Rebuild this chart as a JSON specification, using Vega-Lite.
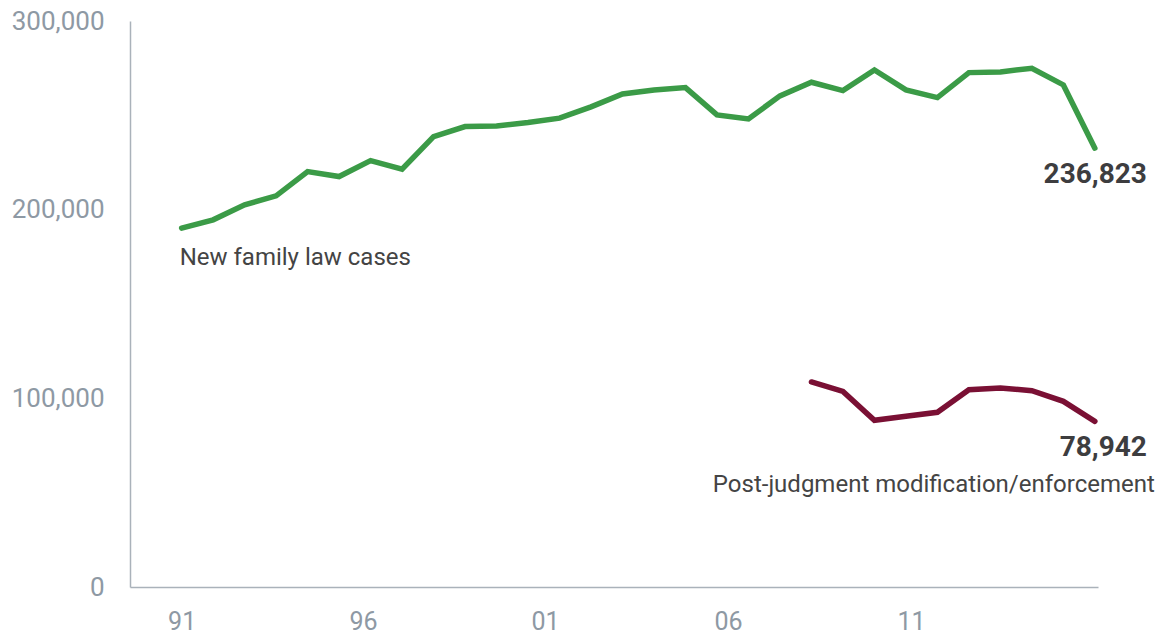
{
  "$schema": "https://vega.github.io/schema/vega-lite/v6.json",
  "width": 968,
  "height": 566,
  "autosize": {"type": "none"},
  "padding": {"left": 130, "top": 21, "right": 69, "bottom": 49},
  "background": "white",
  "config": {"view": {"stroke": null}, "font": "Roboto"},
  "datasets": {
    "cases": [
      {"period": 0, "series": "New family law cases", "cases": 190230},
      {"period": 1, "series": "New family law cases", "cases": 194630},
      {"period": 2, "series": "New family law cases", "cases": 202570},
      {"period": 3, "series": "New family law cases", "cases": 207340},
      {"period": 4, "series": "New family law cases", "cases": 220210},
      {"period": 5, "series": "New family law cases", "cases": 217560},
      {"period": 6, "series": "New family law cases", "cases": 226030},
      {"period": 7, "series": "New family law cases", "cases": 221480},
      {"period": 8, "series": "New family law cases", "cases": 238740},
      {"period": 9, "series": "New family law cases", "cases": 244040},
      {"period": 10, "series": "New family law cases", "cases": 244410},
      {"period": 11, "series": "New family law cases", "cases": 246160},
      {"period": 12, "series": "New family law cases", "cases": 248490},
      {"period": 13, "series": "New family law cases", "cases": 254470},
      {"period": 14, "series": "New family law cases", "cases": 261360},
      {"period": 15, "series": "New family law cases", "cases": 263470},
      {"period": 16, "series": "New family law cases", "cases": 264690},
      {"period": 17, "series": "New family law cases", "cases": 250240},
      {"period": 18, "series": "New family law cases", "cases": 248120},
      {"period": 19, "series": "New family law cases", "cases": 260300},
      {"period": 20, "series": "New family law cases", "cases": 267550},
      {"period": 21, "series": "New family law cases", "cases": 263100},
      {"period": 22, "series": "New family law cases", "cases": 274070},
      {"period": 23, "series": "New family law cases", "cases": 263470},
      {"period": 24, "series": "New family law cases", "cases": 259400},
      {"period": 25, "series": "New family law cases", "cases": 272640},
      {"period": 26, "series": "New family law cases", "cases": 273010},
      {"period": 27, "series": "New family law cases", "cases": 274970},
      {"period": 28, "series": "New family law cases", "cases": 266120},
      {"period": 29, "series": "New family law cases", "cases": 232600},
      {"period": 20, "series": "Post-judgment modification/enforcement", "cases": 108670},
      {"period": 21, "series": "Post-judgment modification/enforcement", "cases": 103700},
      {"period": 22, "series": "Post-judgment modification/enforcement", "cases": 88340},
      {"period": 23, "series": "Post-judgment modification/enforcement", "cases": 90450},
      {"period": 24, "series": "Post-judgment modification/enforcement", "cases": 92570},
      {"period": 25, "series": "Post-judgment modification/enforcement", "cases": 104600},
      {"period": 26, "series": "Post-judgment modification/enforcement", "cases": 105500},
      {"period": 27, "series": "Post-judgment modification/enforcement", "cases": 104070},
      {"period": 28, "series": "Post-judgment modification/enforcement", "cases": 98400},
      {"period": 29, "series": "Post-judgment modification/enforcement", "cases": 87810}
    ],
    "notes": [
      {"kind": "end", "period": 29, "cases": 232600, "text": "236,823"},
      {"kind": "end", "period": 29, "cases": 87810, "text": "78,942"},
      {"kind": "nameLeft", "period": 0, "cases": 190230, "text": "New family law cases"},
      {"kind": "nameRight", "period": 29, "cases": 87810, "text": "Post-judgment modification/enforcement"}
    ]
  },
  "encoding": {
    "x": {
      "field": "period",
      "type": "quantitative",
      "scale": {"domain": [-1.64, 29.1], "nice": false, "zero": false},
      "axis": {
        "title": null,
        "values": [0, 5.76, 11.54, 17.35, 23.16],
        "labelExpr": "datum.value < 3 ? '91' : datum.value < 9 ? '96' : datum.value < 14 ? '01' : datum.value < 20 ? '06' : '11'",
        "grid": false,
        "ticks": false,
        "tickSize": 0,
        "labelFontSize": 25,
        "labelColor": "#8e99a4",
        "labelPadding": 22,
        "labelFlush": false,
        "labelOverlap": false,
        "labelBound": false,
        "domainColor": "#aab2ba",
        "domainWidth": 1.5
      }
    },
    "y": {
      "field": "cases",
      "type": "quantitative",
      "scale": {"domain": [0, 300000], "nice": false},
      "axis": {
        "title": null,
        "values": [0, 100000, 200000, 300000],
        "format": ",.0f",
        "grid": false,
        "ticks": false,
        "tickSize": 0,
        "labelFontSize": 26,
        "labelColor": "#8e99a4",
        "labelPadding": 26,
        "labelFlush": false,
        "labelOverlap": false,
        "labelBound": false,
        "domainColor": "#aab2ba",
        "domainWidth": 1.5
      }
    }
  },
  "layer": [
    {
      "data": {"name": "cases"},
      "mark": {"type": "line", "strokeWidth": 5.5, "strokeCap": "round"},
      "encoding": {
        "color": {
          "field": "series",
          "type": "nominal",
          "scale": {
            "domain": ["New family law cases", "Post-judgment modification/enforcement"],
            "range": ["#3b9b47", "#7a1034"]
          },
          "legend": null
        }
      }
    },
    {
      "data": {"name": "notes"},
      "transform": [{"filter": "datum.kind == 'end'"}],
      "mark": {"type": "text", "align": "right", "baseline": "alphabetic", "dx": 52, "dy": 35, "fontSize": 28, "fontWeight": "bold", "color": "#3d3d3f"},
      "encoding": {"text": {"field": "text"}}
    },
    {
      "data": {"name": "notes"},
      "transform": [{"filter": "datum.kind == 'nameLeft'"}],
      "mark": {"type": "text", "align": "left", "baseline": "alphabetic", "dx": -2, "dy": 37, "fontSize": 24, "color": "#444444"},
      "encoding": {"text": {"field": "text"}}
    },
    {
      "data": {"name": "notes"},
      "transform": [{"filter": "datum.kind == 'nameRight'"}],
      "mark": {"type": "text", "align": "right", "baseline": "alphabetic", "dx": 60, "dy": 71, "fontSize": 24, "color": "#444444"},
      "encoding": {"text": {"field": "text"}}
    }
  ]
}
